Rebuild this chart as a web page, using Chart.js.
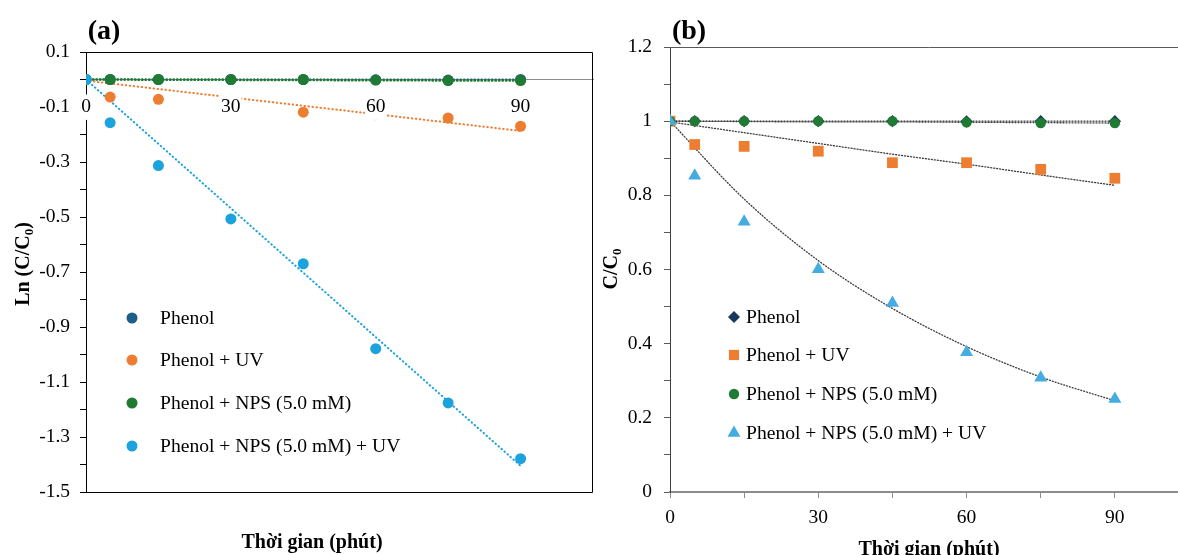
<!DOCTYPE html>
<html>
<head>
<meta charset="utf-8">
<script src="https://cdn.jsdelivr.net/npm/chart.js@4.4.1/dist/chart.umd.min.js"></script>
<style>
  html, body { margin: 0; padding: 0; background: #fff; overflow: hidden; }
  #wrap { position: relative; width: 1178px; height: 555px; overflow: hidden; background: #fff; }
  #boxA { position: absolute; left: 0; top: 0; width: 600px; height: 555px; }
  #boxB { position: absolute; left: 590px; top: 0; width: 610px; height: 555px; }
</style>
</head>
<body>
<div id="wrap">
  <div id="boxA"><canvas id="chartA"></canvas></div>
  <div id="boxB"><canvas id="chartB"></canvas></div>
</div>
<script>
// data
const TIMES = [0, 5, 15, 30, 45, 60, 75, 90];
const SERIES_NAMES = ['Phenol', 'Phenol + UV', 'Phenol + NPS (5.0 mM)', 'Phenol + NPS (5.0 mM) + UV'];

// (a) Ln(C/C0)
const LN_PHENOL = [0, 0, 0, 0, 0, -0.001, -0.002, 0];
const LN_UV = [0, -0.064, -0.072, -0.085, -0.119, -0.128, -0.14, -0.17];
const LN_NPS = [0, 0, 0, 0, 0, -0.002, -0.004, -0.004];
const LN_NPS_UV = [0, -0.157, -0.313, -0.507, -0.67, -0.979, -1.176, -1.379];
// linear trend lines (a), end points
const FIT_T = [0, 90];
const LN_FIT_PHENOL = [0, 0];
const LN_FIT_UV = [-0.004, -0.187];
const LN_FIT_NPS = [0, -0.004];
const LN_FIT_NPS_UV = [0, -1.405];

// (b) C/C0
const CC_PHENOL = [1, 1, 1, 1, 1, 0.999, 1, 1];
const CC_UV = [1, 0.937, 0.932, 0.919, 0.888, 0.888, 0.87, 0.846];
const CC_NPS = [1, 1, 1, 1, 1, 0.997, 0.995, 0.995];
const CC_NPS_UV = [1, 0.853, 0.729, 0.601, 0.51, 0.377, 0.308, 0.251];
// exponential trend curves (b), read at every 15 min
const CURVE_T = [0, 15, 30, 45, 60, 75, 90];
const CC_FIT_PHENOL = [1, 1, 1, 1, 1, 1, 1];
const CC_FIT_UV = [0.998, 0.969, 0.94, 0.911, 0.884, 0.855, 0.827];
const CC_FIT_NPS = [1, 0.999, 0.998, 0.998, 0.997, 0.996, 0.995];
const CC_FIT_NPS_UV = [1, 0.79, 0.624, 0.495, 0.392, 0.31, 0.246];

// axis ranges
const A_Y_MIN = -1.5, A_Y_MAX = 0.1;
const B_Y_MIN = 0, B_Y_MAX = 1.2;
const X_MIN = 0, X_MAX = 105, X_LAST_TICK = 90;

const SERIF = "'Liberation Serif', 'Times New Roman', serif";
const COLORS_A = ['#1d5e8a', '#ed7d31', '#1f7a33', '#1ca2dc'];
const COLORS_B = ['#17375e', '#ed7d31', '#1f7a33', '#45ace2'];

function pts(xs, ys) {
  return xs.map((x, i) => ({ x: x, y: ys[i] }));
}

function drawMarker(ctx, style, x, y, r, color) {
  ctx.fillStyle = color;
  ctx.beginPath();
  if (style === 'circle') {
    ctx.arc(x, y, r, 0, Math.PI * 2);
  } else if (style === 'rect') {
    const s = r * Math.SQRT2;
    ctx.rect(x - s / 2, y - s / 2, s, s);
  } else if (style === 'rectRot') {
    ctx.moveTo(x, y - r); ctx.lineTo(x + r, y); ctx.lineTo(x, y + r); ctx.lineTo(x - r, y);
  } else if (style === 'triangle') {
    const w = r * Math.sqrt(3) / 2;
    ctx.moveTo(x, y - r); ctx.lineTo(x + w, y + r / 2); ctx.lineTo(x - w, y + r / 2);
  }
  ctx.closePath();
  ctx.fill();
}

// text with optional subscript parts, centred on (x, y)
function drawRich(ctx, parts, x, y, size, bold, rotate) {
  const main = (bold ? 'bold ' : '') + size + 'px ' + SERIF;
  const sub = (bold ? 'bold ' : '') + Math.round(size * 0.65) + 'px ' + SERIF;
  ctx.save();
  ctx.translate(x, y);
  if (rotate) ctx.rotate(-Math.PI / 2);
  ctx.fillStyle = '#000';
  ctx.textBaseline = 'alphabetic';
  let total = 0;
  parts.forEach(p => { ctx.font = p.sub ? sub : main; total += ctx.measureText(p.t).width; });
  let cx = -total / 2;
  const base = size * 0.33;
  parts.forEach(p => {
    ctx.font = p.sub ? sub : main;
    ctx.fillText(p.t, cx, p.sub ? base + size * 0.2 : base);
    cx += ctx.measureText(p.t).width;
  });
  ctx.restore();
}

const sideLegend = {
  id: 'sideLegend',
  afterDraw(chart, args, opts) {
    const ctx = chart.ctx;
    ctx.save();
    ctx.font = opts.size + 'px ' + SERIF;
    ctx.textBaseline = 'middle';
    SERIES_NAMES.forEach((name, i) => {
      const y = opts.rows[i];
      drawMarker(ctx, opts.styles[i], opts.markerX, y, opts.radii[i], opts.colors[i]);
      ctx.fillStyle = '#000';
      ctx.fillText(name, opts.textX, y + 1);
    });
    ctx.restore();
  }
};

const panelText = {
  id: 'panelText',
  afterDraw(chart, args, opts) {
    const ctx = chart.ctx;
    opts.items.forEach(it => drawRich(ctx, it.parts, it.x, it.y, it.size, it.bold, it.rotate));
  }
};

const frame = {
  id: 'frame',
  beforeDatasetsDraw(chart, args, opts) {
    const a = chart.chartArea, ctx = chart.ctx;
    ctx.save();
    ctx.strokeStyle = opts.color;
    ctx.lineWidth = 1;
    ctx.beginPath();
    if (opts.box) {
      ctx.rect(a.left + 0.5, a.top + 0.5, a.right - a.left - 1, a.bottom - a.top);
    } else {
      ctx.moveTo(a.left, a.top + 0.5); ctx.lineTo(a.right, a.top + 0.5);
    }
    ctx.stroke();
    ctx.restore();
  }
};

function markerSet(values, i, colors, style, radius, order) {
  return {
    label: SERIES_NAMES[i], data: pts(TIMES, values), showLine: false,
    pointStyle: style, pointRadius: radius, pointHoverRadius: radius,
    pointBackgroundColor: colors[i], pointBorderWidth: 0, order: order
  };
}
function trendSet(xs, values, color, width, dash, order, curve) {
  return {
    label: 'trend', data: pts(xs, values), showLine: true, pointRadius: 0,
    borderColor: color, borderWidth: width, borderDash: dash, borderCapStyle: 'round',
    cubicInterpolationMode: curve ? 'monotone' : 'default', order: order
  };
}
const keepTicks = s => { s.ticks = s.ticks.filter(t => t.value <= X_LAST_TICK); };

// ---------- panel (a)
new Chart(document.getElementById('chartA'), {
  type: 'scatter',
  data: {
    datasets: [
      markerSet(LN_NPS_UV, 3, COLORS_A, 'circle', 5.5, 0),
      markerSet(LN_NPS, 2, COLORS_A, 'circle', 5.5, 1),
      markerSet(LN_UV, 1, COLORS_A, 'circle', 5.5, 2),
      markerSet(LN_PHENOL, 0, COLORS_A, 'circle', 5.5, 3),
      trendSet(FIT_T, LN_FIT_NPS_UV, COLORS_A[3], 2, [0.5, 3.5], 4),
      trendSet(FIT_T, LN_FIT_NPS, COLORS_A[2], 2.5, [0.5, 3], 5),
      trendSet(FIT_T, LN_FIT_UV, COLORS_A[1], 2, [0.5, 3.5], 6),
      trendSet(FIT_T, LN_FIT_PHENOL, COLORS_A[0], 2, [0.5, 3], 7)
    ]
  },
  options: {
    responsive: true,
    maintainAspectRatio: false,
    animation: false,
    layout: { padding: { left: 0, top: 52, right: 7, bottom: 63 } },
    plugins: {
      legend: { display: false },
      tooltip: { enabled: false },
      frame: { color: '#000', box: true },
      sideLegend: {
        markerX: 132, textX: 160, rows: [318, 360, 403, 446], size: 19.6,
        styles: ['circle', 'circle', 'circle', 'circle'], radii: [5.5, 5.5, 5.5, 5.5], colors: COLORS_A
      },
      panelText: {
        items: [
          { parts: [{ t: '(a)' }], x: 104, y: 30, size: 28, bold: true },
          { parts: [{ t: 'Thời gian (phút)' }], x: 312, y: 541, size: 20, bold: true },
          { parts: [{ t: 'Ln (C/C' }, { t: '0', sub: true }, { t: ')' }], x: 22, y: 264, size: 20, bold: true, rotate: true }
        ]
      }
    },
    scales: {
      x: {
        type: 'linear', min: X_MIN, max: X_MAX, position: { y: 0 },
        afterBuildTicks: keepTicks,
        grid: { display: true, drawOnChartArea: false, drawTicks: false },
        border: { color: '#8c8c8c', width: 1 },
        ticks: {
          stepSize: 30, padding: 16, z: 1, color: '#000', maxRotation: 0,
          font: { family: SERIF, size: 19.5 },
          showLabelBackdrop: true, backdropColor: '#fff', backdropPadding: 1,
          callback: v => (v % 30 === 0 ? String(v) : '')
        }
      },
      y: {
        type: 'linear', min: A_Y_MIN, max: A_Y_MAX,
        afterFit: s => { s.width = 86; },
        grid: { drawOnChartArea: false, tickLength: 6, color: '#000' },
        border: { color: '#000', width: 1 },
        ticks: {
          stepSize: 0.1, padding: 10, color: '#000', font: { family: SERIF, size: 19.5 },
          callback: v => (Math.round(v * 10) % 2 !== 0 ? v.toFixed(1) : '')
        }
      }
    }
  },
  plugins: [frame, sideLegend, panelText]
});

// ---------- panel (b)
new Chart(document.getElementById('chartB'), {
  type: 'scatter',
  data: {
    datasets: [
      markerSet(CC_NPS_UV, 3, COLORS_B, 'triangle', 7.5, 0),
      markerSet(CC_NPS, 2, COLORS_B, 'circle', 5.2, 1),
      markerSet(CC_UV, 1, COLORS_B, 'rect', 7.6, 2),
      markerSet(CC_PHENOL, 0, COLORS_B, 'rectRot', 6.2, 3),
      trendSet(CURVE_T, CC_FIT_NPS_UV, '#3c3c3c', 1.3, [1, 2], 4, true),
      trendSet(CURVE_T, CC_FIT_NPS, '#3c3c3c', 1.3, [1, 2], 5, true),
      trendSet(CURVE_T, CC_FIT_UV, '#3c3c3c', 1.3, [1, 2], 6, true),
      trendSet(CURVE_T, CC_FIT_PHENOL, '#3c3c3c', 1.3, [1, 2], 7, true)
    ]
  },
  options: {
    responsive: true,
    maintainAspectRatio: false,
    animation: false,
    layout: { padding: { left: 0, top: 47, right: 11, bottom: 0 } },
    plugins: {
      legend: { display: false },
      tooltip: { enabled: false },
      frame: { color: '#595959', box: false },
      sideLegend: {
        markerX: 144, textX: 156, rows: [317, 355, 394, 433], size: 19.6,
        styles: ['rectRot', 'rect', 'circle', 'triangle'], radii: [6, 7.2, 5.2, 7.5], colors: COLORS_B
      },
      panelText: {
        items: [
          { parts: [{ t: '(b)' }], x: 99, y: 30, size: 28, bold: true },
          { parts: [{ t: 'Thời gian (phút)' }], x: 339, y: 548, size: 20, bold: true },
          { parts: [{ t: 'C/C' }, { t: '0', sub: true }], x: 20, y: 269, size: 20, bold: true, rotate: true }
        ]
      }
    },
    scales: {
      x: {
        type: 'linear', min: X_MIN, max: X_MAX, position: 'bottom',
        afterBuildTicks: keepTicks,
        afterFit: s => { s.height = 63; },
        grid: { drawOnChartArea: false, tickLength: 6, color: '#8c8c8c' },
        border: { color: '#8c8c8c', width: 2 },
        ticks: {
          stepSize: 15, padding: 8, color: '#000', maxRotation: 0,
          font: { family: SERIF, size: 19.5 },
          callback: v => (v % 30 === 0 ? String(v) : '')
        }
      },
      y: {
        type: 'linear', min: B_Y_MIN, max: B_Y_MAX,
        afterFit: s => { s.width = 80; },
        grid: { drawOnChartArea: false, tickLength: 6, color: '#595959' },
        border: { color: '#404040', width: 1 },
        ticks: {
          stepSize: 0.1, padding: 12, color: '#000', font: { family: SERIF, size: 19.5 },
          callback: v => (Math.round(v * 10) % 2 === 0 ? String(Number(v.toFixed(1))) : '')
        }
      }
    }
  },
  plugins: [frame, sideLegend, panelText]
});
</script>
</body>
</html>
